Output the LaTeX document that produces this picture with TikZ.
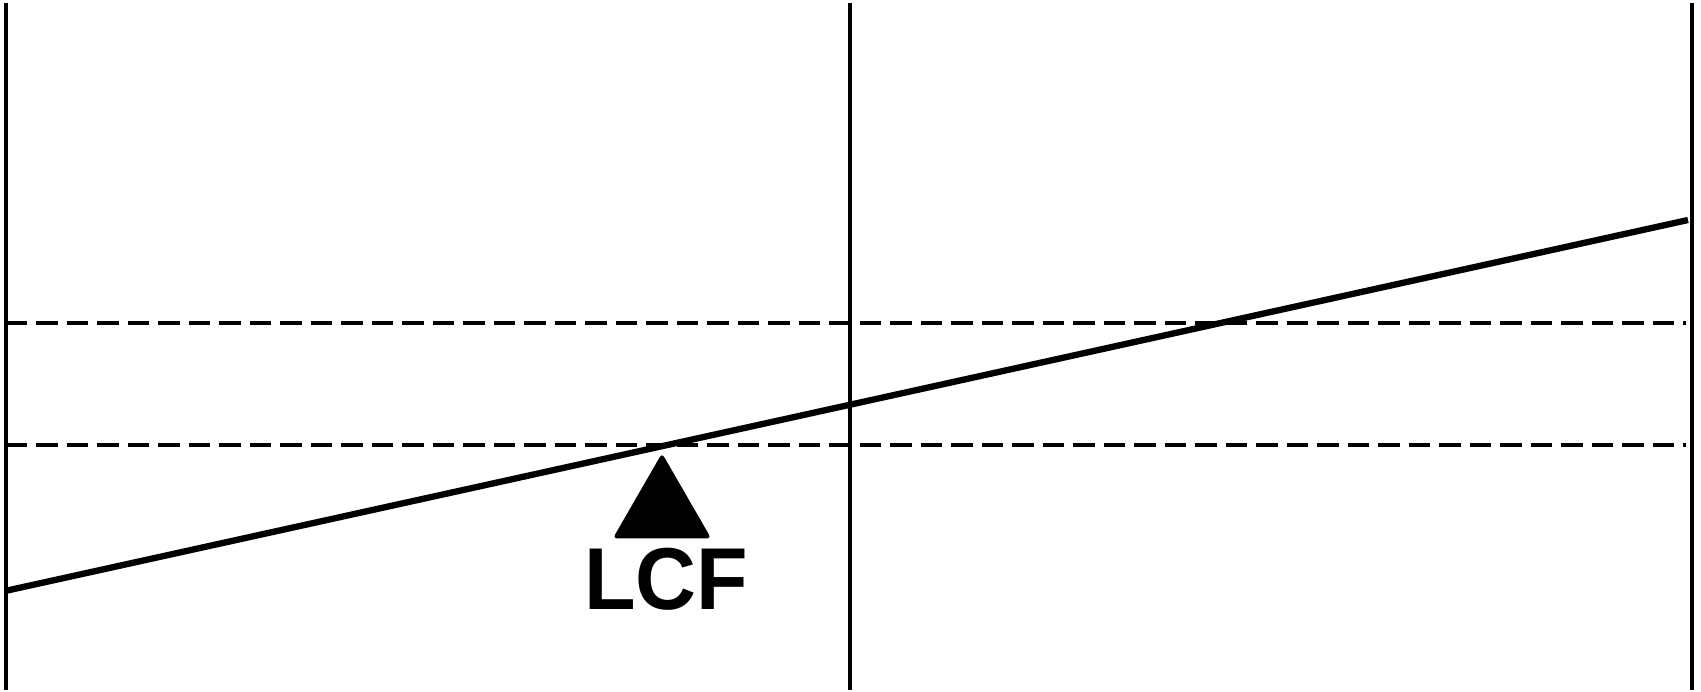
\documentclass[tikz,border=0pt]{standalone}
\usepackage{fontspec}
\setmainfont{Liberation Sans}
\usetikzlibrary{shapes.geometric, positioning, calc}

\begin{document}
\begin{tikzpicture}[
    x=0.02cm, y=-0.02cm,
    frame/.style={line width=1.8pt},
    level/.style={line width=2pt, dash pattern=on 0.43cm off 0.18cm},
    slope/.style={line width=3.6pt},
    marker/.style={draw, fill, regular polygon, regular polygon sides=3, minimum size=2.2cm, inner sep=0pt, line width=1pt, rounded corners=1.5pt},
    tag/.style={font=\fontsize{50}{50}\selectfont\bfseries, inner sep=0pt, anchor=base, xscale=0.96}
]
    \useasboundingbox (0,0) rectangle (1701,692);

    % ================= VERTICAL LINES =================
    \coordinate (LT) at (6,3);     \coordinate (LB) at (6,690);
    \coordinate (MT) at (850,3);   \coordinate (MB) at (850,690);
    \coordinate (RT) at (1692,3);  \coordinate (RB) at (1692,690);

    \draw[frame] (LT) -- (LB);
    \draw[frame] (MT) -- (MB);
    \draw[frame] (RT) -- (RB);

    % ================= DASHED LEVELS =================
    \coordinate (UL) at (6,323);  \coordinate (UR) at (1686,323);
    \coordinate (DL) at (6,445);  \coordinate (DR) at (1686,445);

    \draw[level] (UL) -- (UR);
    \draw[level] (DL) -- (DR);

    % ================= SLOPED LINE =================
    \coordinate (SL) at (5,591);
    \coordinate (SR) at (1688,220);
    \draw[slope] (SL) -- (SR);

    % ================= MARKER =================
    \node[marker] (TRI) at (662,510) {};
    \node[tag] (LCF) at (666,609) {LCF};

\end{tikzpicture}
\end{document}
